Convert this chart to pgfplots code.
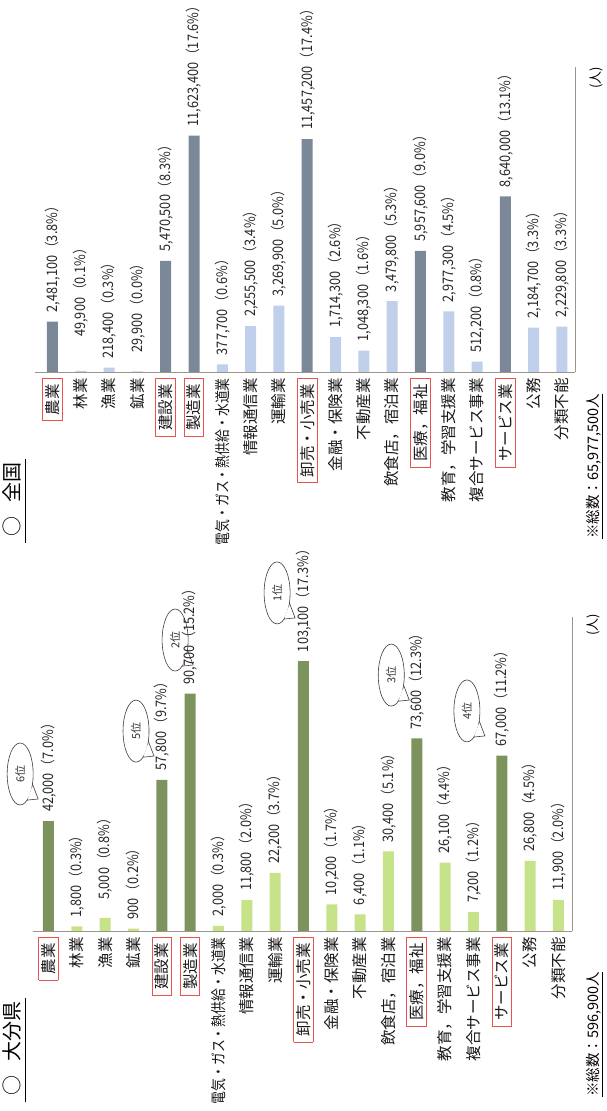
\documentclass[border=0pt]{standalone}
\usepackage{fontspec}
\setmainfont{Noto Sans CJK JP}
\usepackage{graphicx}
\usepackage{pgfplots}
\pgfplotsset{compat=1.18}

\definecolor{topdark}{HTML}{7A8898}
\definecolor{toplight}{HTML}{C0D0EB}
\definecolor{botdark}{HTML}{7D935E}
\definecolor{botlight}{HTML}{C6E389}
\definecolor{boxred}{HTML}{E8544C}
\definecolor{axisgray}{HTML}{9C968A}
\definecolor{bubble}{HTML}{4A3A30}

\newcommand{\rb}[1]{{\setlength{\fboxsep}{2.2pt}\setlength{\fboxrule}{0.9pt}\fcolorbox{boxred}{white}{\hspace{3pt}#1\hspace{3pt}}}}
\newcommand{\sq}[1]{\scalebox{0.83}[1]{#1}}
\newcommand{\vl}[2]{\scalebox{0.88}[1]{#1\hspace{1pt}（#2\%）}}
\newcommand{\vlo}[3]{\hspace*{#1}\scalebox{0.88}[1]{#2\hspace{1pt}（#3\%）}}
% speech bubble: x, y (axis units), text
\newcommand{\bub}[3]{%
  \draw[draw=bubble, fill=white, line width=0.6pt] (axis cs:#1,#2) ellipse [x radius=13pt, y radius=31pt];
  \fill[white] ([shift={(11.8pt,-13.1pt)}]axis cs:#1,#2) -- ([shift={(18pt,-25pt)}]axis cs:#1,#2) -- ([shift={(7.46pt,-25.4pt)}]axis cs:#1,#2) -- cycle;
  \draw[draw=bubble, line width=0.6pt] ([shift={(12.3pt,-10pt)}]axis cs:#1,#2) -- ([shift={(18pt,-25pt)}]axis cs:#1,#2) -- ([shift={(7pt,-26.1pt)}]axis cs:#1,#2);
  \node[rotate=90, inner sep=0pt, font=\fontsize{11}{11}\selectfont, text=black!80] at (axis cs:#1,#2) {#3};
}

\pgfplotsset{
  chart/.style={
    scale only axis,
    anchor=south west,
    ybar, bar width=11pt, bar shift=0pt,
    axis x line=bottom, axis y line=right,
    axis line style={-, draw=axisgray, line width=0.9pt},
    ymin=0,
    ytick=\empty,
    xtick={0,...,18},
    major tick length=0pt,
    xticklabels={\rb{農業},林業,漁業,鉱業,\rb{建設業},\rb{製造業},\sq{電気・ガス・熱供給・水道業},情報通信業,運輸業,\rb{卸売・小売業},金融・保険業,不動産業,飲食店，宿泊業,\rb{医療，福祉},教育，学習支援業,複合サービス事業,\rb{サービス業},公務,分類不能},
    xticklabel style={rotate=90, anchor=east, inner xsep=6pt, inner ysep=0pt, font=\fontsize{15.5}{16}\selectfont, text=black!90},
    point meta=explicit symbolic,
    nodes near coords,
    every node near coord/.append style={rotate=90, anchor=west, inner xsep=9pt, inner ysep=0pt, font=\fontsize{14.5}{15}\selectfont, text=black!85},
    clip=false,
  }
}

\begin{document}
\begin{tikzpicture}
\useasboundingbox (0,0) rectangle (606pt,1111pt);

% ---------- 全国 ----------
\begin{axis}[chart, at={(35pt,739pt)}, width=540pt, height=305pt,
  xmin=-0.618, xmax=18.46, ymax=15000000]
\addplot[fill=topdark, draw=none] coordinates {
  (0,2481100) [\vl{2,481,100}{3.8}]
  (4,5470500) [\vl{5,470,500}{8.3}]
  (5,11623400) [\vl{11,623,400}{17.6}]
  (9,11457200) [\vl{11,457,200}{17.4}]
  (13,5957600) [\vl{5,957,600}{9.0}]
  (16,8640000) [\vl{8,640,000}{13.1}]
};
\addplot[fill=toplight, draw=none] coordinates {
  (1,49900) [\vlo{25pt}{49,900}{0.1}]
  (2,218400) [\vl{218,400}{0.3}]
  (3,29900) [\vlo{10pt}{29,900}{0.0}]
  (6,377700) [\vl{377,700}{0.6}]
  (7,2255500) [\vl{2,255,500}{3.4}]
  (8,3269900) [\vl{3,269,900}{5.0}]
  (10,1714300) [\vl{1,714,300}{2.6}]
  (11,1048300) [\vl{1,048,300}{1.6}]
  (12,3479800) [\vl{3,479,800}{5.3}]
  (14,2977300) [\vl{2,977,300}{4.5}]
  (15,512200) [\vl{512,200}{0.8}]
  (17,2184700) [\vl{2,184,700}{3.3}]
  (18,2229800) [\vl{2,229,800}{3.3}]
};
\end{axis}

% ---------- 大分県 ----------
\begin{axis}[chart, at={(33pt,180pt)}, width=539pt, height=314pt,
  xmin=-0.547, xmax=18.48, ymax=120000]
\addplot[fill=botdark, draw=none] coordinates {
  (0,42000) [\vl{42,000}{7.0}]
  (4,57800) [\vl{57,800}{9.7}]
  (5,90700) [\vl{90,700}{15.2}]
  (9,103100) [\vl{103,100}{17.3}]
  (13,73600) [\vl{73,600}{12.3}]
  (16,67000) [\vl{67,000}{11.2}]
};
\addplot[fill=botlight, draw=none] coordinates {
  (1,1800) [\vl{1,800}{0.3}]
  (2,5000) [\vlo{9pt}{5,000}{0.8}]
  (3,900) [\vl{900}{0.2}]
  (6,2000) [\vl{2,000}{0.3}]
  (7,11800) [\vl{11,800}{2.0}]
  (8,22200) [\vl{22,200}{3.7}]
  (10,10200) [\vl{10,200}{1.7}]
  (11,6400) [\vl{6,400}{1.1}]
  (12,30400) [\vl{30,400}{5.1}]
  (14,26100) [\vl{26,100}{4.4}]
  (15,7200) [\vl{7,200}{1.2}]
  (17,26800) [\vl{26,800}{4.5}]
  (18,11900) [\vl{11,900}{2.0}]
};
\bub{-1.0}{60000}{6位}
\bub{3.09}{76400}{5位}
\bub{4.47}{111200}{2位}
\bub{8.07}{129200}{1位}
\bub{12.1}{97800}{3位}
\bub{14.77}{84100}{4位}
\end{axis}

% titles
\node[rotate=90, anchor=base west, inner sep=0pt, font=\fontsize{20}{20}\selectfont] (t1) at (20pt,574pt) {○\hspace{0.7em}全国};
\draw[line width=0.8pt] ([xshift=5pt,yshift=-6pt]t1.base west) -- ([xshift=5pt,yshift=4pt]t1.base east);
\node[rotate=90, anchor=base west, inner sep=0pt, font=\fontsize{20}{20}\selectfont] (t2) at (20pt,15pt) {○\hspace{0.7em}大分県};
\draw[line width=0.8pt] ([xshift=5pt,yshift=-6pt]t2.base west) -- ([xshift=5pt,yshift=4pt]t2.base east);

% totals
\node[rotate=90, anchor=base west, inner sep=0pt, font=\fontsize{14.5}{15}\selectfont] (s1) at (598pt,572pt) {※総数：65,977,500人};
\draw[line width=0.7pt] ([xshift=4pt]s1.base west) -- ([xshift=4pt]s1.base east);
\node[rotate=90, anchor=base west, inner sep=0pt, font=\fontsize{14.5}{15}\selectfont] (s2) at (598pt,14pt) {※総数：596,900人};
\draw[line width=0.7pt] ([xshift=4pt]s2.base west) -- ([xshift=4pt]s2.base east);

% units
\node[rotate=90, inner sep=0pt, font=\fontsize{13}{13}\selectfont] at (596pt,1033pt) {(人)};
\node[rotate=90, inner sep=0pt, font=\fontsize{13}{13}\selectfont] at (593pt,486pt) {(人)};
\end{tikzpicture}
\end{document}
